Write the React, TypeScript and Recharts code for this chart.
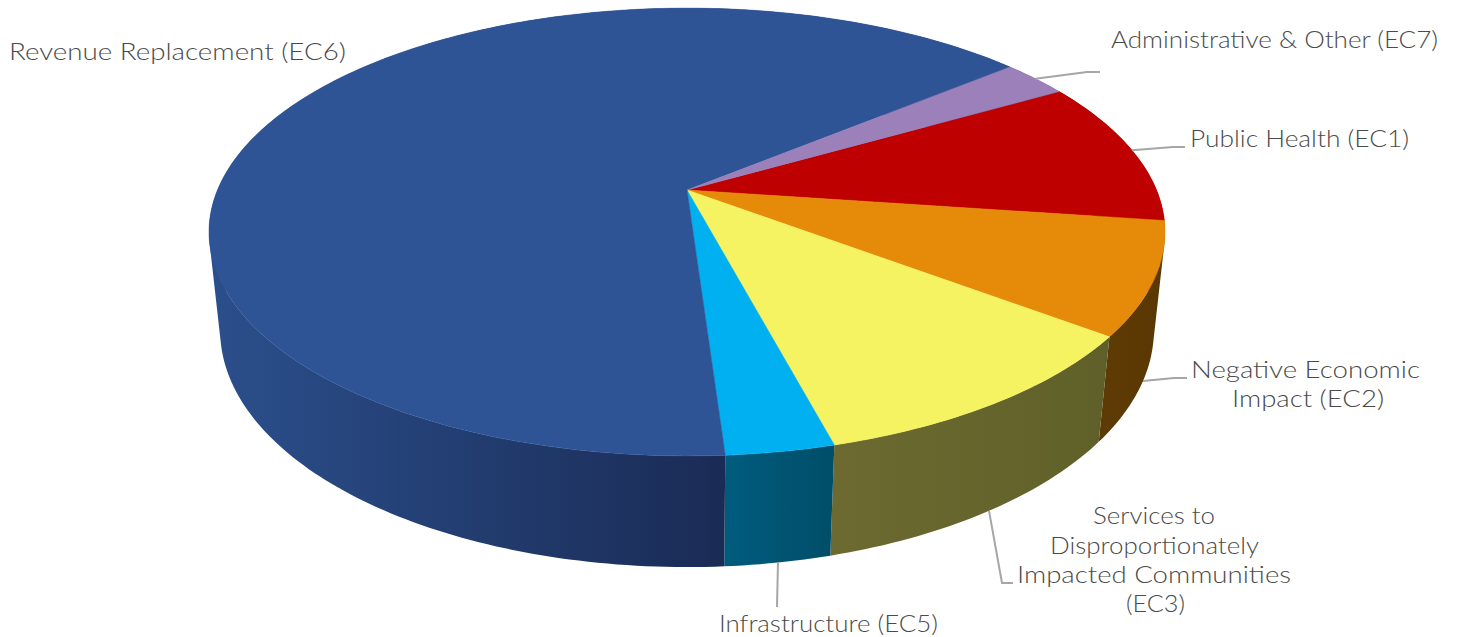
import { Pie, PieChart } from "recharts";

const categories = [
  "Public Health (EC1)",
  "Negative Economic Impact (EC2)",
  "Services to Disproportionately Impacted Communities (EC3)",
  "Infrastructure (EC5)",
  "Revenue Replacement (EC6)",
  "Administrative & Other (EC7)",
];
const shares = [10.5, 8.1, 10.57, 3.08, 65.05, 2.7];

const topColors = ["#BE0000", "#E68A0A", "#F5F362", "#00B0F0", "#2E5496", "#9B80BA"];
const wallFrom = ["#5E0000", "#5E3A04", "#6C6A30", "#005C7E", "#2B4F8C", "#4C3F5C"];
const wallTo = ["#5E0000", "#5A3803", "#5F6029", "#004E68", "#1A2B55", "#4C3F5C"];

const pieData = categories.map((name, i) => ({ name, value: shares[i] }));

// perspective of the tilted disc
const CX = 687;
const CY = 190;
const RY = 216;
const RX = 469.5;
const TILT = 0.1876;
const DEPTH = 0.023;
const THICKNESS = 99;

function project(angle: number, z: number) {
  const a = (angle * Math.PI) / 180;
  const u = Math.cos(a);
  const v = Math.sin(a);
  const w = 1 + TILT * v + DEPTH * z;
  return { x: CX + (RX * u) / w, y: CY + (-RY * v + THICKNESS * z) / w };
}

function sampleAngles(from: number, to: number) {
  const steps = Math.max(2, Math.ceil(Math.abs(to - from)));
  const out: number[] = [];
  for (let i = 0; i <= steps; i++) out.push(from + ((to - from) * i) / steps);
  return out;
}

function TopFace(props: any) {
  const rim = sampleAngles(props.startAngle, props.endAngle).map((a) => {
    const p = project(a, 0);
    return `${p.x.toFixed(2)} ${p.y.toFixed(2)}`;
  });
  const fill = topColors[props.index];
  return <path d={`M${CX} ${CY}L${rim.join("L")}Z`} fill={fill} stroke={fill} strokeWidth={0.5} />;
}

// one quad per sample, all wound the same way so the union has no holes
function wallPath(angles: number[]) {
  let d = "";
  for (let i = 0; i < angles.length - 1; i++) {
    const q = [
      project(angles[i], 0),
      project(angles[i + 1], 0),
      project(angles[i + 1], 1),
      project(angles[i], 1),
    ];
    let area = 0;
    q.forEach((p, k) => {
      const n = q[(k + 1) % 4];
      area += p.x * n.y - n.x * p.y;
    });
    if (area < 0) q.reverse();
    d += `M${q.map((p) => `${p.x.toFixed(2)} ${p.y.toFixed(2)}`).join("L")}Z`;
  }
  return d;
}

function WallFace(props: any) {
  const angles = sampleAngles(props.startAngle, props.endAngle);
  // shade only over the part of the wall that faces the viewer
  const front = angles.filter((a) => Math.sin((a * Math.PI) / 180) < 0.05);
  const xs = (front.length ? front : angles).map((a) => project(a, 0).x);
  const id = `wall-${props.index}`;
  return (
    <g>
      <defs>
        <linearGradient
          id={id}
          gradientUnits="userSpaceOnUse"
          x1={Math.min(...xs)}
          x2={Math.max(...xs)}
          y1={0}
          y2={0}
        >
          <stop offset="0" stopColor={wallFrom[props.index]} />
          <stop offset="1" stopColor={wallTo[props.index]} />
        </linearGradient>
      </defs>
      <path d={wallPath(angles)} fill={`url(#${id})`} />
    </g>
  );
}

// where each label sits; z says if the leader starts on the top or the bottom rim
const labelLayout: {
  z: number;
  leader: number[][];
  lines: { text: string; x: number; y: number; width: number }[];
}[] = [
  {
    z: 0,
    leader: [[1173, 147], [1185, 147]],
    lines: [{ text: "Public Health (EC1)", x: 1190, y: 147, width: 219 }],
  },
  {
    z: 1,
    leader: [[1174, 378], [1187, 378]],
    lines: [
      { text: "Negative Economic", x: 1191, y: 378, width: 229 },
      { text: "Impact (EC2)", x: 1232, y: 407, width: 152 },
    ],
  },
  {
    z: 1,
    leader: [[1002, 583], [1013, 583]],
    lines: [
      { text: "Services to", x: 1093, y: 524, width: 122 },
      { text: "Disproportionately", x: 1050, y: 554, width: 209 },
      { text: "Impacted Communities", x: 1017, y: 583, width: 274 },
      { text: "(EC3)", x: 1126, y: 612, width: 59 },
    ],
  },
  {
    z: 1,
    leader: [[777, 607]],
    lines: [{ text: "Infrastructure (EC5)", x: 719, y: 632, width: 219 }],
  },
  {
    z: 0,
    leader: [],
    lines: [{ text: "Revenue Replacement (EC6)", x: 9, y: 60, width: 337 }],
  },
  {
    z: 0,
    leader: [[1087, 72], [1100, 72]],
    lines: [{ text: "Administrative & Other (EC7)", x: 1111, y: 48, width: 327 }],
  },
];

function SliceLabel(props: any) {
  const layout = labelLayout[props.index];
  const mid = (props.startAngle + props.endAngle) / 2;
  const start = project(mid, layout.z);
  return (
    <g>
      {layout.leader.length > 0 && (
        <polyline
          points={[[start.x, start.y], ...layout.leader].map((p) => p.join(",")).join(" ")}
          fill="none"
          stroke="#A6A6A6"
          strokeWidth={2}
        />
      )}
      {layout.lines.map((line) => (
        <text
          key={line.text}
          x={line.x}
          y={line.y}
          textLength={line.width}
          lengthAdjust="spacingAndGlyphs"
          fill="#4A4A4A"
          fontSize={24}
          fontWeight={300}
          fontFamily="Lato, 'Open Sans', sans-serif"
        >
          {line.text}
        </text>
      ))}
    </g>
  );
}

export default function App() {
  return (
    <div style={{ position: "absolute", left: 0, top: 0, width: 1458, height: 637 }}>
      <PieChart width={1458} height={637} margin={{ top: 0, right: 0, bottom: 0, left: 0 }}>
        <Pie
          data={pieData}
          dataKey="value"
          nameKey="name"
          cx={CX}
          cy={CY}
          outerRadius={RY}
          startAngle={29.9}
          endAngle={-330.1}
          stroke="none"
          shape={WallFace}
          isAnimationActive={false}
        />
        <Pie
          data={pieData}
          dataKey="value"
          nameKey="name"
          cx={CX}
          cy={CY}
          outerRadius={RY}
          startAngle={29.9}
          endAngle={-330.1}
          stroke="none"
          shape={TopFace}
          label={SliceLabel}
          labelLine={false}
          isAnimationActive={false}
        />
      </PieChart>
    </div>
  );
}
